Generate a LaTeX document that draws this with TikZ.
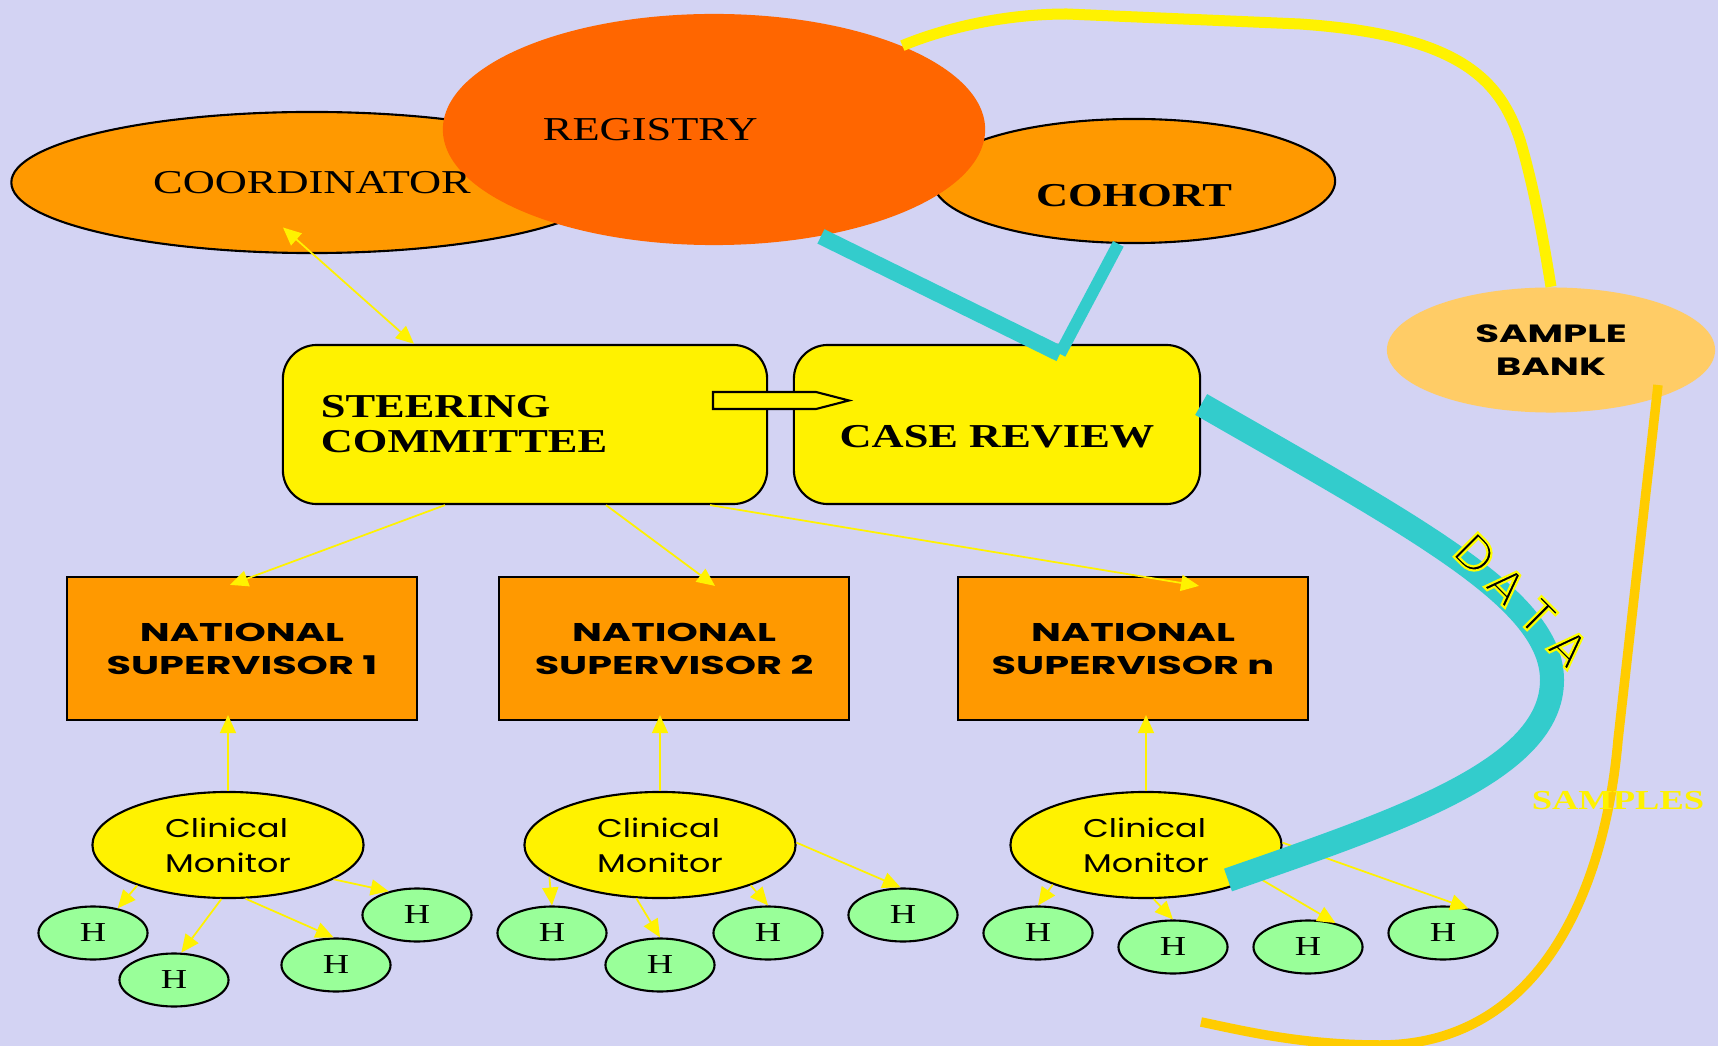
\documentclass[tikz,border=0pt]{standalone}
\usepackage{fontspec}
\usepackage{tikz}
\usetikzlibrary{calc}
\usetikzlibrary{positioning}
\usetikzlibrary{arrows.meta}
\usetikzlibrary{shapes.geometric}

\newfontfamily\diagserif[FakeStretch=1.33]{Liberation Serif}
\newfontfamily\comicnarrow[FakeStretch=1.3]{Poppins}
\newfontfamily\comicwide[FakeStretch=1.55]{Poppins}
\newfontfamily\datafont{Poppins}

\definecolor{bglilac}{RGB}{211,211,243}
\definecolor{nodeorange}{RGB}{255,153,0}
\definecolor{regorange}{RGB}{255,102,0}
\definecolor{hgreen}{RGB}{153,255,153}
\definecolor{datateal}{RGB}{51,204,204}
\definecolor{bankorange}{RGB}{255,204,102}
\definecolor{samplegold}{RGB}{255,204,0}

\newcommand\outl[1]{%
  \special{pdf:literal direct 2 Tr 0.6 w 1 1 0 RG}#1%
  \special{pdf:literal direct 0 Tr 0 0 0 RG}}

\begin{document}
\begin{tikzpicture}[%
  x=0.01cm, y=-0.01cm,
  >={Triangle[length=1.8mm,width=1.6mm]},
  bluntell/.style={ellipse, inner sep=0pt},
  orangeell/.style={bluntell, draw=black, line width=0.6pt, fill=nodeorange},
  boardbox/.style={draw=black, line width=0.6pt, fill=yellow,
    rounded corners=3.4mm, minimum height=1.59cm, inner sep=0pt,
    font=\diagserif\bfseries\fontsize{9.5}{10}\selectfont},
  supbox/.style={draw=black, line width=0.6pt, fill=nodeorange,
    minimum width=3.5cm, minimum height=1.43cm, inner sep=0pt, align=center,
    font=\comicwide\bfseries\fontsize{7.3}{9.4}\selectfont},
  monell/.style={bluntell, draw=black, line width=0.6pt, fill=yellow,
    minimum width=2.71cm, minimum height=1.06cm, align=left,
    font=\comicnarrow\fontsize{7.3}{10}\selectfont},
  hell/.style={bluntell, draw=black, line width=0.6pt, fill=hgreen,
    minimum width=1.09cm, minimum height=0.53cm,
    font=\diagserif\fontsize{7.8}{8}\selectfont},
  flow/.style={->, draw=yellow, line width=0.5pt},
]

  \fill[bglilac] (0,0) rectangle (1718,1046);
  \useasboundingbox (0,0) rectangle (1718,1046);

  \node[orangeell, minimum width=6.01cm, minimum height=1.41cm] (coord) at (312,182.5) {};
  \node[orangeell, minimum width=4.02cm, minimum height=1.24cm,
    font=\diagserif\bfseries\fontsize{9.5}{10}\selectfont] (cohort) at (1134,181)
    {\raisebox{-1.5mm}[\height][\depth]{COHORT}};
  \node[bluntell, fill=regorange, minimum width=5.42cm, minimum height=2.31cm,
    font=\diagserif\fontsize{9.5}{10}\selectfont] (reg) at (714,129.5)
    {\makebox[34.2mm][l]{REGISTRY}};
  \node[font=\diagserif\fontsize{9.5}{10}\selectfont] (coordtxt) at (coord) {COORDINATOR};

  \node[bluntell, fill=bankorange, minimum width=3.28cm, minimum height=1.25cm, align=center,
    font=\comicwide\bfseries\fontsize{7.1}{9.4}\selectfont] (sbank) at (1551,350) {SAMPLE\\BANK};
  \draw[draw=yellow, line width=1.1mm] (reg.24) .. controls (940,30) and (1000,14) .. (1067,14)
    -- (1300,24) .. controls (1460,35) and (1500,80) .. (1520,140)
    .. controls (1535,190) and (1545,250) .. (sbank.north);

  \node[boardbox, minimum width=4.84cm, text width=4.08cm, inner xsep=3.8mm, align=left]
    (steer) at (525,424.5) {STEERING\\COMMITTEE};
  \node[boardbox, minimum width=4.06cm] (case) at (997,424.5)
    {\raisebox{-1.2mm}[\height][\depth]{CASE REVIEW}};
  \draw[line width=0.6pt, fill=yellow] (713,392) -- (816,392) -- (849,400.5)
    -- (816,409) -- (713,409) -- cycle;

  \node[supbox] (ns1) at (242,648.5) {NATIONAL\\SUPERVISOR 1};
  \node[supbox] (ns2) at (674,648.5) {NATIONAL\\SUPERVISOR 2};
  \node[supbox] (nsn) at (1133,648.5) {NATIONAL\\SUPERVISOR n};

  \node[monell] (cm1) at (228,845) {Clinical\\Monitor};
  \node[monell] (cm2) at (660,845) {Clinical\\Monitor};
  \node[monell] (cm3) at (1146,845) {Clinical\\Monitor};

  \node[hell] (h11) at (93,933) {H};
  \node[hell] (h12) at (174,980) {H};
  \node[hell] (h13) at (336,965) {H};
  \node[hell] (h14) at (417,915) {H};
  \node[hell] (h21) at (552,933) {H};
  \node[hell] (h22) at (660,965) {H};
  \node[hell] (h23) at (768,933) {H};
  \node[hell] (h24) at (903,915) {H};
  \node[hell] (h31) at (1038,933) {H};
  \node[hell] (h32) at (1173,947) {H};
  \node[hell] (h33) at (1308,947) {H};
  \node[hell] (h34) at (1443,933) {H};

  \draw[flow, <->] ([shift={(-111,0)}]steer.north) -- ([shift={(-29,45)}]coord.center);
  \draw[flow] ([shift={(-80,0)}]steer.south) -- ([shift={(-12,9)}]ns1.north);
  \draw[flow] ([shift={(81,0)}]steer.south) -- ([shift={(41,10)}]ns2.north);
  \draw[flow] ([shift={(185,0)}]steer.south) -- ([shift={(66,10)}]nsn.north);

  \draw[flow] (cm1.north) -- ([shift={(-14,-6)}]ns1.south);
  \draw[flow] (cm2.north) -- ([shift={(-14,-6)}]ns2.south);
  \draw[flow] (cm3.north) -- ([shift={(13,-6)}]nsn.south);

  \foreach \cm/\a/\h/\b in {cm1/204/h11/45, cm1/263/h12/75, cm1/288/h13/95, cm1/342/h14/140,
    cm2/196/h21/90, cm2/246/h22/90, cm2/336/h23/90, cm2/1/h24/95,
    cm3/203/h31/90, cm3/278/h32/90, cm3/344/h33/41, cm3/1/h34/44}
    \draw[flow] (\cm.\a) -- (\h.\b);

  \coordinate (vtip) at ([shift={(63,10)}]case.north);
  \draw[draw=datateal, line width=1.6mm] (reg.-45) -- (vtip);
  \draw[draw=datateal, line width=1.2mm] (cohort.-104) -- (vtip);
  \draw[draw=datateal, line width=2.4mm] ([shift={(0,-20)}]case.east)
    .. controls (1420,530) and (1552,600) .. (1552,680)
    .. controls (1552,770) and (1400,820) .. ([shift={(82,35)}]cm3.center);

  \coordinate (goldend) at (1201,1022);
  \draw[draw=samplegold, line width=0.95mm] ([shift={(107,35)}]sbank.center) -- (1618,740)
    .. controls (1605,890) and (1540,1045) .. (1380,1045)
    .. controls (1300,1045) and (1240,1030) .. (goldend);

  \node[text=yellow, font=\diagserif\bfseries\fontsize{7.8}{8}\selectfont] (samples) at (1618,801) {SAMPLES};
  \node[rotate=-45, font=\datafont\fontsize{14}{14}\selectfont] (datalbl) at (1522,601)
    {\outl{\makebox[4.4mm]{D}\makebox[4.4mm]{A}\makebox[4.4mm]{T}\makebox[4.4mm]{A}}};

\end{tikzpicture}
\end{document}
